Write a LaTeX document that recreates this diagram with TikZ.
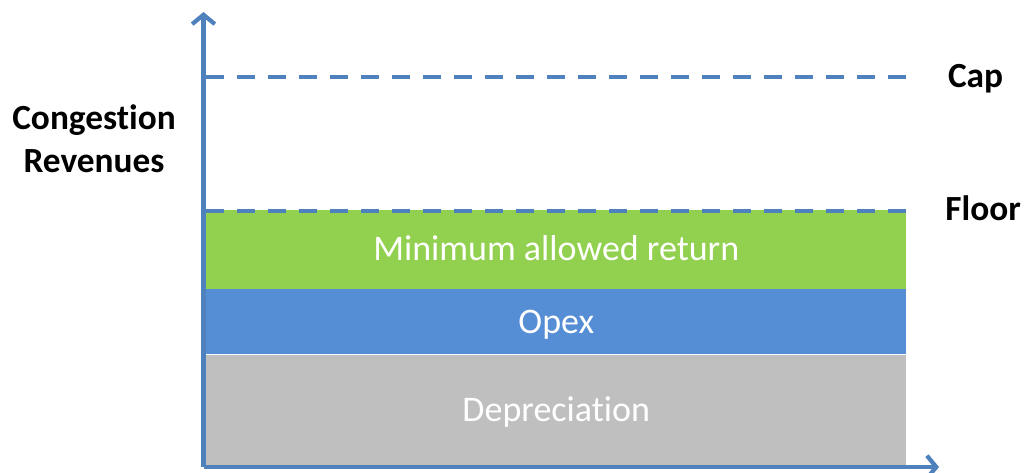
\documentclass[tikz,border=0pt]{standalone}
\usepackage{fontspec}
\setmainfont{Carlito}[Ligatures=NoCommon]
\usetikzlibrary{positioning,arrows.meta}
\tikzset{>=latex}
\definecolor{axiscol}{HTML}{4F81BD}
\definecolor{returncol}{HTML}{92D050}
\definecolor{opexcol}{HTML}{558ED5}
\definecolor{deprcol}{HTML}{BFBFBF}
\tikzstyle{axis}=[draw=axiscol,line width=3.2pt,-{Straight Barb[length=7pt,width=17pt]}]
\tikzstyle{limit}=[draw=axiscol,line width=3pt,dash pattern=on 13.5pt off 9.75pt]
\tikzstyle{band}=[inner sep=0,minimum width=525pt,text height=22pt,text depth=5pt,text=white,font=\fontsize{27}{30}\selectfont]
\tikzstyle{label}=[font=\bfseries\fontsize{26.5}{32}\selectfont,align=center]

\begin{document}
\begin{tikzpicture}[x=0.75pt,y=-0.75pt]
  \useasboundingbox (0,0) rectangle (1024,472);
  % bands, bottom to top
  \node[band,fill=deprcol,minimum height=83.25pt,anchor=south west] (depr) at (206,466) {Depreciation};
  \node[band,fill=opexcol,minimum height=48.75pt,anchor=south west] (opex) at (depr.north west) {Opex};
  \node[band,fill=returncol,minimum height=59.25pt,anchor=south west] (ret) at (opex.north west) {Minimum allowed return};
  % axes
  \coordinate (origin) at (203.5,467);
  \coordinate (ytop) at (203.5,12);
  \coordinate (xend) at (939,467);
  \draw[axis] (origin) -- (ytop);
  \draw[axis] (origin) -- (xend);
  % cap and floor
  \coordinate (capl) at (206,77);
  \coordinate (capr) at (906,77);
  \coordinate (floorl) at (206,210.5);
  \coordinate (floorr) at (906,210.5);
  \draw[limit] (capl) -- (capr);
  \draw[limit] (floorl) -- (floorr);
  \node[label,right=28pt of capr,yshift=-1pt] (cap) {Cap};
  \node[label,right=26pt of floorr,yshift=2pt] (floor) {Floor};
  \node[label] (ylabel) at (94,139) {Congestion\\Revenues};
\end{tikzpicture}
\end{document}
